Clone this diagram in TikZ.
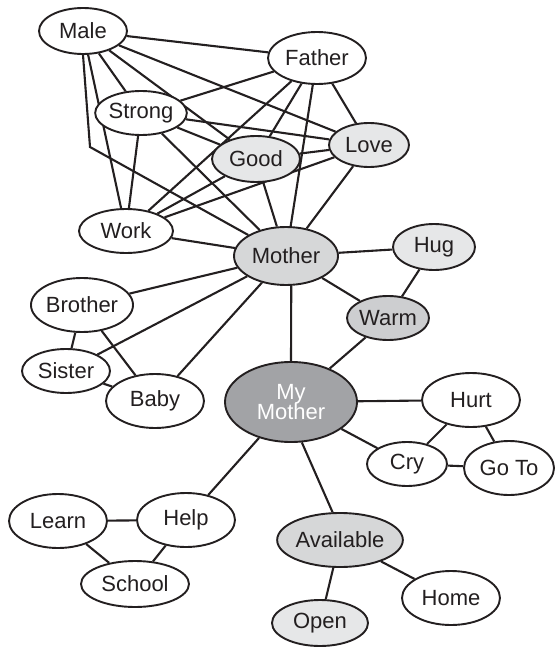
\documentclass[tikz,border=0pt]{standalone}
\usepackage{fontspec}
\setmainfont{Liberation Sans}
\usetikzlibrary{shapes.geometric,backgrounds}
\definecolor{palegray}{HTML}{E6E7E8}
\definecolor{midgray}{HTML}{D6D7D8}
\definecolor{warmgray}{HTML}{CDCED0}
\definecolor{deepgray}{HTML}{A2A3A6}
\definecolor{inkcol}{HTML}{231F20}
\tikzset{
  bubble/.style n args={2}{ellipse, draw=inkcol, line width=1.9pt, fill=white,
    minimum width=#1pt, minimum height=#2pt, inner sep=0pt,
    font=\fontsize{22}{23}\selectfont, text=inkcol},
  pale/.style={fill=palegray},
  mid/.style={fill=midgray},
  warmfill/.style={fill=warmgray},
  deep/.style={fill=deepgray, text=white},
  link/.style={draw=inkcol, line width=2.1pt},
}
\begin{document}
\begin{tikzpicture}[x=1pt,y=-1pt]
\useasboundingbox (0,0) rectangle (556,647);
% concept bubbles
\node[bubble={88}{46}] (male) at (83,31) {Male};
\node[bubble={98}{52}] (father) at (317,58) {Father};
\node[bubble={90}{44}] (strong) at (141,113) {Strong};
\node[bubble={88}{46},pale] (good) at (256,159) {Good};
\node[bubble={80}{44},pale] (love) at (369,145) {Love};
\node[bubble={94}{44}] (work) at (126,231) {Work};
\node[bubble={104}{58},mid] (mother) at (286,256) {Mother};
\node[bubble={82}{46},pale] (hug) at (434,247) {Hug};
\node[bubble={82}{44},warmfill] (warm) at (388,318) {Warm};
\node[bubble={98}{54}] (brother) at (82,305) {Brother};
\node[bubble={88}{44}] (sister) at (66,371) {Sister};
\node[bubble={98}{54}] (baby) at (155,401) {Baby};
\node[bubble={132}{80},deep,align=center] (mymother) at (291,402) {My\\[-3pt]Mother};
\node[bubble={98}{54}] (hurt) at (471,400) {Hurt};
\node[bubble={80}{44}] (cry) at (407,464) {Cry};
\node[bubble={90}{54}] (goto) at (509,468) {Go To};
\node[bubble={98}{54}] (learn) at (58,521) {Learn};
\node[bubble={98}{54}] (help) at (186,520) {Help};
\node[bubble={108}{46}] (school) at (135,584) {School};
\node[bubble={118}{54},mid] (available) at (340,540) {Available};
\node[bubble={98}{54}] (home) at (451,598) {Home};
\node[bubble={96}{46},pale] (open) at (320,623) {Open};
\coordinate (malebend) at (90,147);
% connectors, drawn underneath the bubbles
\begin{scope}[on background layer]
\path[link] (male) -- (father);
\path[link] (male) -- (love);
\path[link] (male) -- (good);
\path[link] (male) -- (strong);
\path[link] (male.south) -- (malebend) -- (mother);
\path[link] (male) -- (work);
\path[link] (strong) -- (father);
\path[link] (strong) -- (love);
\path[link] (strong) -- (good);
\path[link] (strong) -- (work);
\path[link] (strong) -- (mother);
\path[link] (work) -- (father);
\path[link] (work) -- (good);
\path[link] (work) -- (love);
\path[link] (work) -- (mother);
\path[link] (good) -- (father);
\path[link] (good) -- (love);
\path[link] (good) -- (mother);
\path[link] (father) -- (love);
\path[link] (father) -- (mother);
\path[link] (love) -- (mother);
\path[link] (mother) -- (hug);
\path[link] (mother) -- (warm);
\path[link] (hug) -- (warm);
\path[link] (mother.-80) -- (mymother.90);
\path[link] (warm) -- (mymother);
\path[link] (mother) -- (brother);
\path[link] (mother) -- (sister);
\path[link] (mother) -- (baby);
\path[link] (brother) -- (sister);
\path[link] (brother) -- (baby);
\path[link] (sister) -- (baby);
\path[link] (mymother) -- (help);
\path[link] (mymother) -- (hurt);
\path[link] (mymother) -- (cry);
\path[link] (mymother.-75) -- (available.105);
\path[link] (hurt) -- (cry);
\path[link] (hurt) -- (goto);
\path[link] (cry) -- (goto);
\path[link] (learn) -- (help);
\path[link] (learn) -- (school);
\path[link] (help) -- (school);
\path[link] (available) -- (open);
\path[link] (available) -- (home);
\end{scope}
\end{tikzpicture}
\end{document}
